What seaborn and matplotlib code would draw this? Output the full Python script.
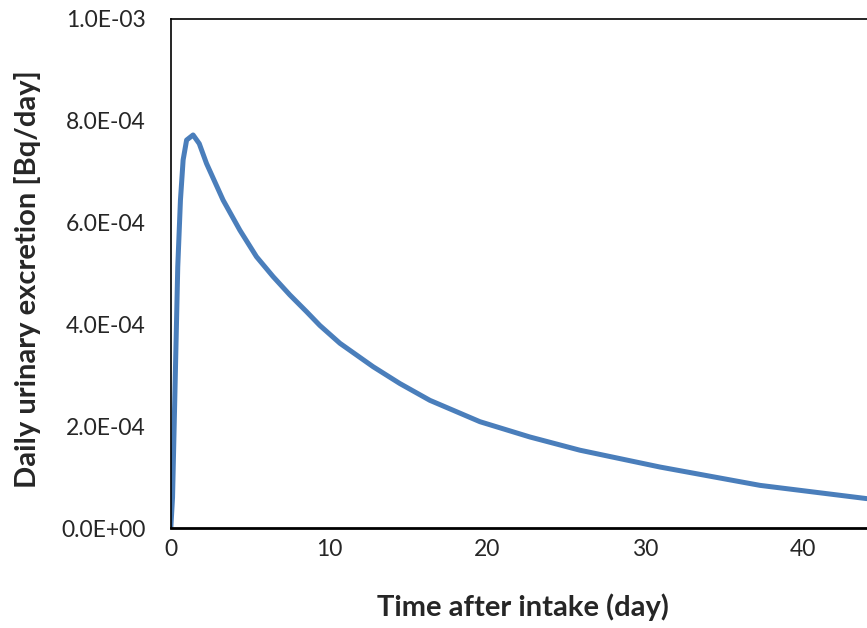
import pandas as pd
import seaborn as sns
import matplotlib
matplotlib.use("Agg")
import matplotlib.pyplot as plt

# values
days = [0.0, 0.11, 0.25, 0.44, 0.61, 0.78, 1.0, 1.41, 1.8, 2.26, 3.31, 4.37,
        5.42, 6.47, 7.53, 8.59, 9.43, 10.7, 12.8, 14.49, 16.39, 19.56, 22.72,
        25.89, 30.95, 37.28, 44.03]
excretion = [0.0, 0.6e-4, 2.51e-4, 5.13e-4, 6.44e-4, 7.23e-4, 7.62e-4,
             7.72e-4, 7.55e-4, 7.16e-4, 6.44e-4, 5.85e-4, 5.33e-4, 4.94e-4,
             4.58e-4, 4.25e-4, 3.98e-4, 3.63e-4, 3.17e-4, 2.84e-4, 2.51e-4,
             2.09e-4, 1.79e-4, 1.53e-4, 1.20e-4, 0.84e-4, 0.58e-4]
xticks = [0, 10, 20, 30, 40]
yticks = [0, 2e-4, 4e-4, 6e-4, 8e-4, 1e-3]

df = pd.DataFrame({'day': days, 'excretion': excretion})

sns.set_style('white')
plt.rcParams['font.family'] = ['Lato', 'DejaVu Sans']

fig = plt.figure(figsize=(8.67, 6.28), dpi=100)
ax = fig.add_axes([0.197, 0.159, 0.803, 0.811])

sns.lineplot(data=df, x='day', y='excretion', ax=ax, color='#4A7EBB',
             linewidth=3.6, solid_capstyle='round', solid_joinstyle='round')

ax.set_xlim(0, 44.05)
ax.set_ylim(0, 1e-3)
ax.set_xticks(xticks)
ax.set_yticks(yticks)
ax.set_yticklabels(['%.1E' % v for v in yticks])
ax.tick_params(axis='both', length=0, labelsize=16.5, colors='#262626')
ax.tick_params(axis='y', pad=18)
ax.tick_params(axis='x', pad=8)

for side in ['left', 'top', 'bottom']:
    ax.spines[side].set_color('black')
    ax.spines[side].set_visible(True)
ax.spines['left'].set_linewidth(1.2)
ax.spines['top'].set_linewidth(1.2)
ax.spines['bottom'].set_linewidth(2)
ax.spines['right'].set_visible(False)

ax.set_xlabel('Time after intake (day)', fontsize=21, fontweight='bold', va='center')
ax.set_ylabel('Daily urinary excretion [Bq/day]', fontsize=21, fontweight='bold', va='center')
ax.xaxis.set_label_coords((523.5 - 171) / 696, -0.155)
ax.yaxis.set_label_coords(-0.2055, (528 - 279) / 509)

plt.savefig('out.png', dpi=100)
plt.close()
